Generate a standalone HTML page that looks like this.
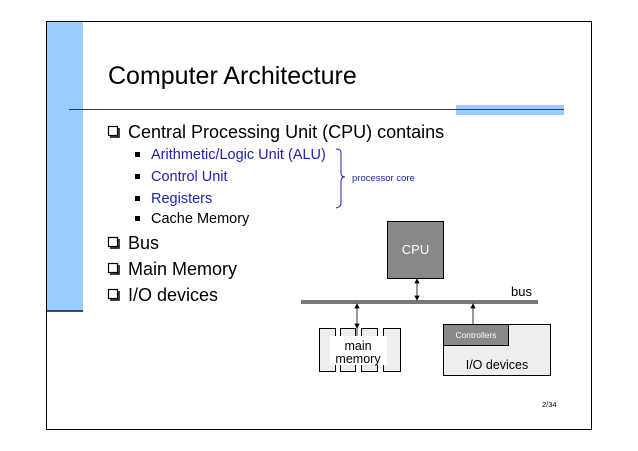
<!DOCTYPE html>
<html><head><style>
body{margin:0;background:#fff;}
svg{display:block;font-family:"Liberation Sans",sans-serif;}
</style></head><body>
<svg width="638" height="451" viewBox="0 0 638 451">
<rect x="46.5" y="21.5" width="545" height="408" fill="#fff" stroke="#000" stroke-width="1"/>
<rect x="47" y="22" width="36" height="289" fill="#99ccff"/>
<line x1="47" y1="311" x2="83" y2="311" stroke="#1a0a33" stroke-width="1.5"/>
<rect x="456" y="105" width="108" height="10" fill="#99ccff"/>
<line x1="69" y1="109.5" x2="564" y2="109.5" stroke="#3a3060" stroke-width="1"/>
<text x="108" y="84" font-size="25" fill="#000">Computer Architecture</text>
<g font-size="18" fill="#000">
<g fill="none" stroke="#000" stroke-width="1.2">
<rect x="108.5" y="126.5" width="9" height="9"/><path d="M110 137 H119 V128" stroke-width="1.5"/>
<rect x="108.5" y="237.5" width="9" height="9"/><path d="M110 248 H119 V239" stroke-width="1.5"/>
<rect x="108.5" y="263.5" width="9" height="9"/><path d="M110 274 H119 V265" stroke-width="1.5"/>
<rect x="108.5" y="289.5" width="9" height="9"/><path d="M110 300 H119 V291" stroke-width="1.5"/>
</g>
<text x="128" y="138">Central Processing Unit (CPU) contains</text>
<text x="128" y="249">Bus</text>
<text x="128" y="275">Main Memory</text>
<text x="128" y="301">I/O devices</text>
</g>
<g font-size="14.5">
<rect x="135" y="152" width="5" height="5" fill="#000"/><text x="151" y="159" fill="#2222aa">Arithmetic/Logic Unit (ALU)</text>
<rect x="135" y="174" width="5" height="5" fill="#000"/><text x="151" y="181" fill="#2222aa">Control Unit</text>
<rect x="135" y="196" width="5" height="5" fill="#000"/><text x="151" y="203" fill="#2222aa">Registers</text>
<rect x="135" y="216" width="5" height="5" fill="#000"/><text x="151" y="223" fill="#000">Cache Memory</text>
</g>
<path d="M336 149 Q341 149 341 153 L341 173 Q341 177 345 177 Q341 177 341 181 L341 203 Q341 207 336 208" fill="none" stroke="#2222aa" stroke-width="1"/>
<text x="352" y="181" font-size="9.5" fill="#2222aa">processor core</text>
<rect x="387.5" y="221.5" width="56" height="57" fill="#888" stroke="#000"/>
<text x="415.5" y="254" font-size="13" fill="#fff" text-anchor="middle">CPU</text>
<rect x="301" y="300" width="237" height="4" fill="#777"/>
<text x="511" y="296" font-size="13">bus</text>
<g stroke="#000" stroke-width="0.8" fill="#000">
<line x1="417" y1="281" x2="417" y2="298"/><path d="M415 283 L417 279 L419 283Z"/><path d="M415 296 L417 300 L419 296Z"/>
<line x1="357" y1="306" x2="357" y2="326"/><path d="M355 308 L357 304 L359 308Z"/><path d="M355 324 L357 328 L359 324Z"/>
<line x1="473" y1="306" x2="473" y2="324"/><path d="M471 308 L473 304 L475 308Z"/>
</g>
<g fill="#eee" stroke="#000">
<rect x="319.5" y="328.5" width="16" height="43"/>
<rect x="340.5" y="328.5" width="15" height="43"/>
<rect x="361.5" y="328.5" width="16" height="43"/>
<rect x="383.5" y="328.5" width="17" height="43"/>
</g>
<rect x="330" y="336" width="57" height="29" fill="#fff"/>
<line x1="357" y1="328" x2="357" y2="336" stroke="#000" stroke-width="0.8"/>
<text x="358" y="350" font-size="12.5" text-anchor="middle">main</text>
<text x="358" y="363" font-size="12.5" text-anchor="middle">memory</text>
<rect x="443.5" y="324.5" width="107" height="51" fill="#eee" stroke="#000"/>
<rect x="443.5" y="324.5" width="65" height="21" fill="#888" stroke="#000"/>
<text x="476" y="338" font-size="8.5" fill="#fff" text-anchor="middle">Controllers</text>
<text x="497" y="369" font-size="12.5" text-anchor="middle">I/O devices</text>
<text x="542" y="407" font-size="7.5">2/34</text>
</svg>
</body></html>
